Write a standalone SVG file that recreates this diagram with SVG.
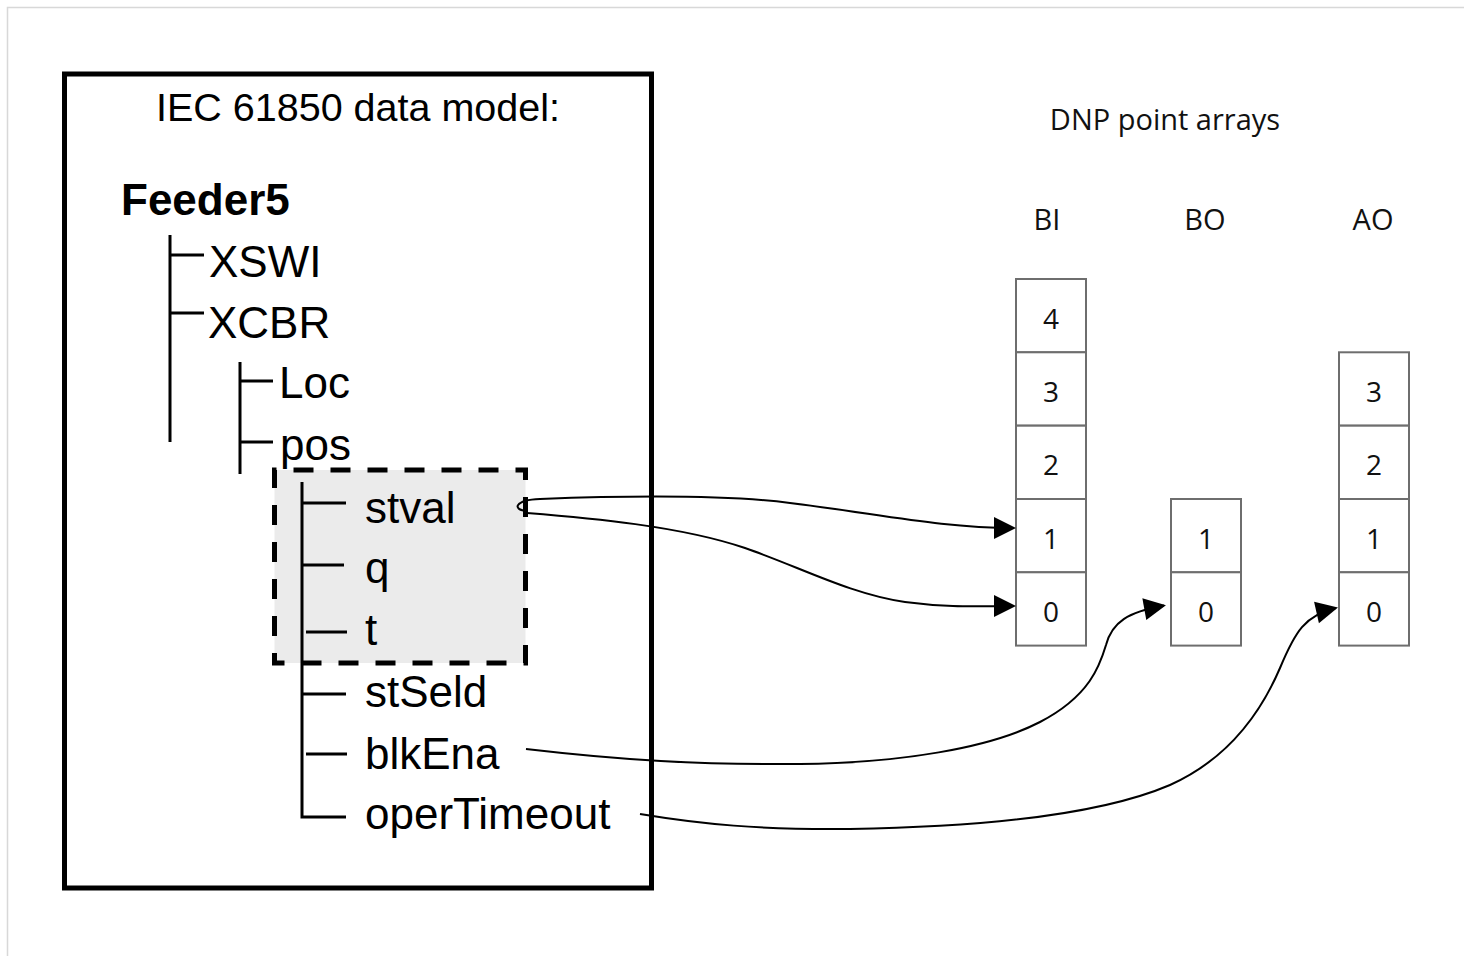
<svg xmlns="http://www.w3.org/2000/svg" width="1464" height="956" viewBox="0 0 1464 956">
  <style>
    .tree { font-family: "Liberation Sans", Arial, sans-serif; font-size: 44px; fill: #000; }
    .title { font-family: "Liberation Sans", Arial, sans-serif; font-size: 39.5px; fill: #000; }
    .dnp { font-family: "Open Sans", "Noto Sans", sans-serif; font-size: 29px; fill: #111; }
    .num { font-family: "Open Sans", "Noto Sans", sans-serif; font-size: 28px; fill: #111; text-anchor: middle; }
    .branch { stroke: #000; stroke-width: 3; fill: none; }
    .cell { fill: #fff; stroke: #6e6e6e; stroke-width: 2; }
    .link { fill: none; stroke: #000; stroke-width: 2; }
  </style>
  <defs>
    <marker id="arrow" markerUnits="userSpaceOnUse" markerWidth="23" markerHeight="23" refX="20" refY="11" orient="auto" overflow="visible">
      <path d="M0,0 L22,11 L0,22 Z" fill="#000"/>
    </marker>
  </defs>

  <rect width="1464" height="956" fill="#fff"/>
  <!-- page frame -->
  <path d="M7.5,956 V7.5 H1464" fill="none" stroke="#d8d8d8" stroke-width="1.5"/>

  <!-- data model panel -->
  <g id="model-panel">
    <rect x="64.5" y="74" width="587" height="814" fill="#fff" stroke="#000" stroke-width="5"/>
    <text class="title" x="358" y="121" text-anchor="middle">IEC 61850 data model:</text>
  </g>

  <!-- highlighted attributes stVal / q / t -->
  <g id="status-group">
    <rect x="274.5" y="470" width="251" height="193" fill="#ebebeb" stroke="#000" stroke-width="5" stroke-dasharray="20 17" stroke-dashoffset="18"/>
  </g>

  <g id="node-feeder5">
    <text class="tree" x="121" y="215" font-weight="bold" font-size="43">Feeder5</text>
    <path class="branch" d="M170,235 V442 M170,255 H204 M170,313 H204"/>
  </g>
  <g id="node-xswi">
    <text class="tree" x="209" y="277">XSWI</text>
  </g>
  <g id="node-xcbr">
    <text class="tree" x="208" y="338">XCBR</text>
    <path class="branch" d="M240,362 V474 M240,381 H273 M240,442 H273"/>
  </g>
  <g id="node-loc">
    <text class="tree" x="279" y="398">Loc</text>
  </g>
  <g id="node-pos">
    <text class="tree" x="280" y="460">pos</text>
    <path class="branch" d="M302,482 V817 H346 M302,503 H346 M302,565 H344 M306,632 H347 M302,694 H346 M306,754 H347"/>
  </g>
  <g id="node-stval"><text class="tree" x="365" y="523">stval</text></g>
  <g id="node-q"><text class="tree" x="365" y="583">q</text></g>
  <g id="node-t"><text class="tree" x="365" y="645">t</text></g>
  <g id="node-stseld"><text class="tree" x="365" y="707">stSeld</text></g>
  <g id="node-blkena"><text class="tree" x="365" y="769">blkEna</text></g>
  <g id="node-opertimeout"><text class="tree" x="365" y="829">operTimeout</text></g>

  <!-- DNP point arrays -->
  <g id="dnp-heading">
    <text class="dnp" x="1165" y="130" text-anchor="middle">DNP point arrays</text>
  </g>

  <g id="array-bi">
    <text class="dnp" x="1047" y="230" text-anchor="middle">BI</text>
    <rect class="cell" x="1016" y="279" width="70" height="73.3"/>
    <rect class="cell" x="1016" y="352.3" width="70" height="73.3"/>
    <rect class="cell" x="1016" y="425.7" width="70" height="73.3"/>
    <rect class="cell" x="1016" y="499" width="70" height="73.3"/>
    <rect class="cell" x="1016" y="572.3" width="70" height="73.3"/>
    <text class="num" x="1051" y="328.5">4</text>
    <text class="num" x="1051" y="401.8">3</text>
    <text class="num" x="1051" y="475.2">2</text>
    <text class="num" x="1051" y="548.5">1</text>
    <text class="num" x="1051" y="621.8">0</text>
  </g>

  <g id="array-bo">
    <text class="dnp" x="1205" y="230" text-anchor="middle">BO</text>
    <rect class="cell" x="1171" y="499" width="70" height="73.3"/>
    <rect class="cell" x="1171" y="572.3" width="70" height="73.3"/>
    <text class="num" x="1206" y="548.5">1</text>
    <text class="num" x="1206" y="621.8">0</text>
  </g>

  <g id="array-ao">
    <text class="dnp" x="1373" y="230" text-anchor="middle">AO</text>
    <rect class="cell" x="1339" y="352.3" width="70" height="73.3"/>
    <rect class="cell" x="1339" y="425.7" width="70" height="73.3"/>
    <rect class="cell" x="1339" y="499" width="70" height="73.3"/>
    <rect class="cell" x="1339" y="572.3" width="70" height="73.3"/>
    <text class="num" x="1374" y="401.8">3</text>
    <text class="num" x="1374" y="475.2">2</text>
    <text class="num" x="1374" y="548.5">1</text>
    <text class="num" x="1374" y="621.8">0</text>
  </g>

  <!-- mappings from data attributes to DNP points -->
  <g id="connectors">
    <path class="link" marker-end="url(#arrow)" d="M527,511 C512,510 514,500 540,499 C620,496 720,494 790,503 C880,514 940,528 1014,528"/>
    <path class="link" marker-end="url(#arrow)" d="M527,513 C590,518 680,526 745,548 C800,567 850,594 905,602 C950,608 980,606 1014,606"/>
    <path class="link" marker-end="url(#arrow)" d="M526,749 C620,760 700,765 800,764 C900,763 990,748 1040,722 C1090,696 1100,665 1106,645 C1112,622 1128,612 1164,605.5"/>
    <path class="link" marker-end="url(#arrow)" d="M640,814 C700,824 760,830 850,829 C980,827 1100,815 1170,785 C1230,758 1262,710 1280,668 C1295,632 1305,615 1336,608"/>
  </g>
</svg>
